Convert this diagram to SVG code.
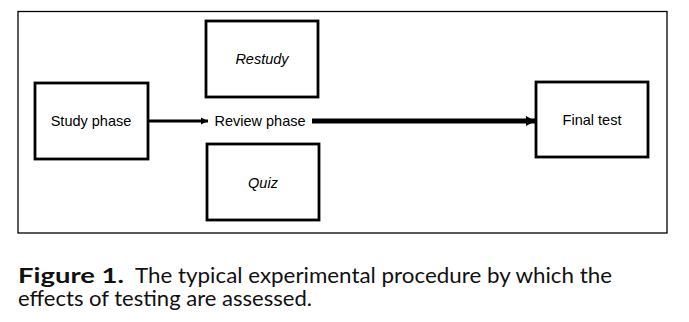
<svg xmlns="http://www.w3.org/2000/svg" width="689" height="322" viewBox="0 0 689 322">
<style>
.box{fill:#fff;stroke:#000;stroke-width:2.8}
.lbl{font-family:"Liberation Sans",Arial,sans-serif;font-size:14.5px;fill:#000;text-anchor:middle}
.it{font-style:italic}
.cap{font-family:"Lato","Liberation Sans",sans-serif;font-size:21px;fill:#111}
</style>
<defs>
<marker id="ah1" markerWidth="8" markerHeight="8" refX="7" refY="4" orient="auto" markerUnits="userSpaceOnUse">
<path d="M0,0.5 L7,4 L0,7.5 Z" fill="#000"/>
</marker>
<marker id="ah2" markerWidth="10" markerHeight="12" refX="9" refY="6" orient="auto" markerUnits="userSpaceOnUse">
<path d="M0,1 L9,6 L0,11 Z" fill="#000"/>
</marker>
</defs>
<rect x="0" y="0" width="689" height="322" fill="#fff"/>
<rect id="frame" x="18" y="11.5" width="649" height="221.5" fill="none" stroke="#000" stroke-width="1.3"/>
<g id="connectors">
<line x1="148" y1="121" x2="208" y2="121" stroke="#000" stroke-width="2.8" marker-end="url(#ah1)"/>
<line x1="312" y1="121" x2="535" y2="121" stroke="#000" stroke-width="5" marker-end="url(#ah2)"/>
</g>
<g id="study">
<rect class="box" x="35" y="83" width="113" height="76"/>
<text class="lbl" x="91" y="126">Study phase</text>
</g>
<g id="restudy">
<rect class="box" x="206" y="21" width="112" height="76"/>
<text class="lbl it" x="262" y="64">Restudy</text>
</g>
<g id="review">
<text class="lbl" x="260" y="126">Review phase</text>
</g>
<g id="quiz">
<rect class="box" x="207" y="144" width="112" height="76"/>
<text class="lbl it" x="263" y="188">Quiz</text>
</g>
<g id="final">
<rect class="box" x="536" y="82" width="112" height="75"/>
<text class="lbl" x="592" y="125">Final test</text>
</g>
<g id="caption">
<text class="cap" x="18" y="283"><tspan font-weight="bold" textLength="106" lengthAdjust="spacingAndGlyphs">Figure 1.</tspan><tspan x="135" textLength="477" lengthAdjust="spacingAndGlyphs">The typical experimental procedure by which the</tspan></text>
<text class="cap" x="18" y="306" textLength="294" lengthAdjust="spacingAndGlyphs">effects of testing are assessed.</text>
</g>
</svg>
